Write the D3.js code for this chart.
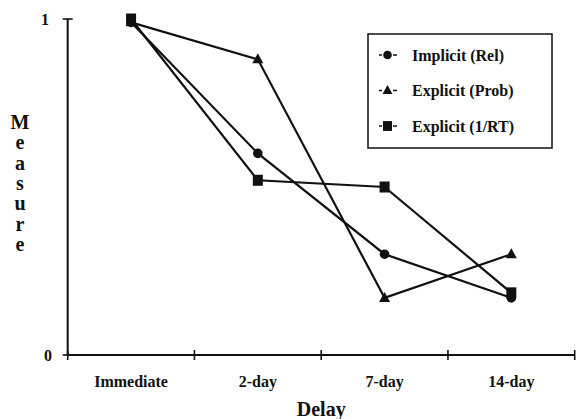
<!DOCTYPE html>
<html>
<head>
<meta charset="utf-8">
<script src="https://cdn.jsdelivr.net/npm/d3@7"></script>
<style>
  html, body { margin: 0; padding: 0; background: #fff; }
  svg { display: block; }
  text { font-family: "Liberation Serif", "Times New Roman", serif; font-weight: bold; fill: #111; }
</style>
</head>
<body>
<svg id="chart" width="582" height="419"></svg>
<script>
const categories = ["Immediate", "2-day", "7-day", "14-day"];
const implicitRel = [0.99, 0.60, 0.30, 0.17];
const explicitProb = [0.99, 0.88, 0.17, 0.30];
const explicitRT = [1.00, 0.52, 0.50, 0.185];
const seriesNames = ["Implicit (Rel)", "Explicit (Prob)", "Explicit (1/RT)"];
const seriesShapes = ["circle", "triangle", "square"];
const yTickValues = [0, 1];
const yTitle = "Measure";
const xTitle = "Delay";

(function () {
const series = [implicitRel, explicitProb, explicitRT].map((vals, i) => ({
  name: seriesNames[i], shape: seriesShapes[i], values: vals
}));

const svg = d3.select("#chart");
const mLeft = 67.7, mRight = 574.7, mTop = 19, mBottom = 355;

const x = d3.scaleBand().domain(categories).range([mLeft, mRight]).padding(0);
const y = d3.scaleLinear().domain([0, 1]).range([mBottom, mTop]);
const cx = c => x(c) + x.bandwidth() / 2;

const ink = "#111";

// Axes lines
svg.append("line").attr("x1", mLeft).attr("x2", mLeft).attr("y1", y(1)).attr("y2", y(0))
  .attr("stroke", ink).attr("stroke-width", 2);
svg.append("line").attr("x1", mLeft).attr("x2", mRight).attr("y1", y(0)).attr("y2", y(0))
  .attr("stroke", ink).attr("stroke-width", 2);

// X ticks at band boundaries
const xBounds = categories.map(c => x(c)).concat([x(categories[categories.length - 1]) + x.bandwidth()]);
svg.selectAll(".xt").data(xBounds).enter().append("line")
  .attr("x1", d => d).attr("x2", d => d)
  .attr("y1", y(0) - 5).attr("y2", y(0) + 5)
  .attr("stroke", ink).attr("stroke-width", 1.6);

// X tick labels
svg.selectAll(".xl").data(categories).enter().append("text")
  .attr("x", d => cx(d)).attr("y", 387)
  .attr("text-anchor", "middle").attr("font-size", 16)
  .text(d => d);

// Y ticks
svg.selectAll(".yt").data(yTickValues).enter().append("line")
  .attr("x1", mLeft - 5).attr("x2", mLeft + 5)
  .attr("y1", d => y(d)).attr("y2", d => y(d))
  .attr("stroke", ink).attr("stroke-width", 1.6);
svg.selectAll(".yl").data(yTickValues).enter().append("text")
  .attr("x", d => d === 1 ? 49 : 52).attr("y", d => y(d) + 5.5)
  .attr("text-anchor", "end").attr("font-size", 16)
  .text(d => d);

// Y title: stacked letters
svg.selectAll(".ytitle").data(yTitle.split("")).enter().append("text")
  .attr("x", 20).attr("y", (d, i) => 129 + i * 20.3)
  .attr("text-anchor", "middle").attr("font-size", 20)
  .text(d => d);

// X title
svg.append("text").attr("x", (mLeft + mRight) / 2).attr("y", 416)
  .attr("text-anchor", "middle").attr("font-size", 20)
  .text(xTitle);

// Marker helper
function marker(g, shape, px, py, s) {
  s = s || 1;
  if (shape === "circle") {
    g.append("circle").attr("cx", px).attr("cy", py).attr("r", 4.8 * s).attr("fill", ink);
  } else if (shape === "square") {
    g.append("rect").attr("x", px - 5 * s).attr("y", py - 5.5 * s)
      .attr("width", 10 * s).attr("height", 11 * s).attr("fill", ink);
  } else {
    const h = 10 * s, w = 11 * s;
    g.append("path").attr("d", `M${px},${py - h * 0.6}L${px + w / 2},${py + h * 0.4}L${px - w / 2},${py + h * 0.4}Z`)
      .attr("fill", ink);
  }
}

// Lines
const line = d3.line().x((d, i) => cx(categories[i])).y(d => y(d));
const gLines = svg.append("g");
series.forEach(s => {
  gLines.append("path").attr("d", line(s.values)).attr("fill", "none")
    .attr("stroke", ink).attr("stroke-width", 2.2);
});
const gMarks = svg.append("g");
series.forEach(s => {
  s.values.forEach((v, i) => marker(gMarks, s.shape, cx(categories[i]), y(v)));
});

// Legend
const lg = svg.append("g");
lg.append("rect").attr("x", 368).attr("y", 34).attr("width", 184).attr("height", 114)
  .attr("fill", "#fff").attr("stroke", ink).attr("stroke-width", 1.5);
series.forEach((s, i) => {
  const ly = 55 + i * 35.5;
  [[379, 382], [393, 397]].forEach(seg => {
    lg.append("line").attr("x1", seg[0]).attr("x2", seg[1]).attr("y1", ly).attr("y2", ly)
      .attr("stroke", ink).attr("stroke-width", 1.5);
  });
  marker(lg, s.shape, 387.5, ly, 0.9);
  lg.append("text").attr("x", 412).attr("y", ly + 5.5).attr("font-size", 16).text(s.name);
});
})();
</script>
</body>
</html>
